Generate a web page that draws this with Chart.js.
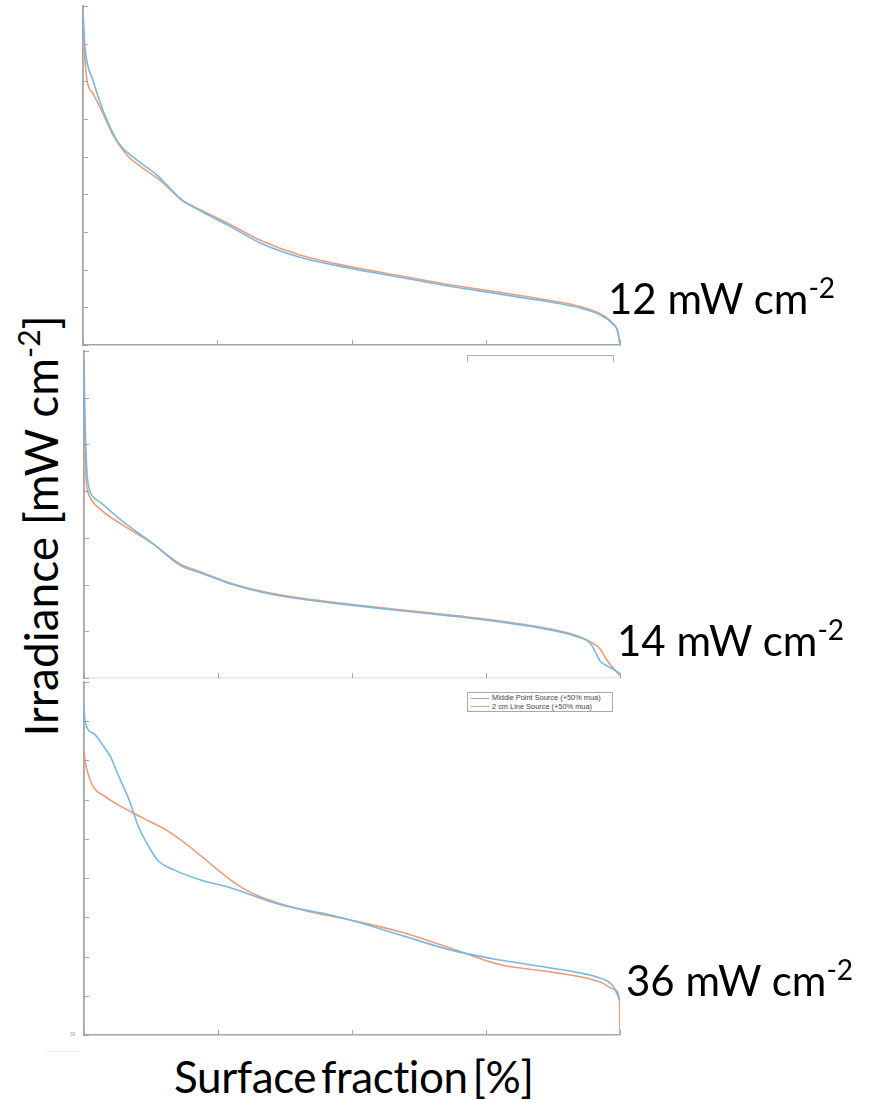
<!DOCTYPE html>
<html>
<head>
<meta charset="utf-8">
<script src="https://cdn.jsdelivr.net/npm/chart.js@4.4.1/dist/chart.umd.min.js"></script>
<style>
  body { margin: 0; background: #fff; }
  #page { position: relative; width: 882px; height: 1100px; overflow: hidden; font-family: "Lato", "Open Sans", sans-serif; }
  .panel { position: absolute; }
  .big { position: absolute; font-size: 42px; color: #000; white-space: nowrap; line-height: 1; }
  .big sup { font-size: 28px; vertical-align: 0; position: relative; top: -16px; }
  #ylabel { position: absolute; left: 41px; top: 526px; font-size: 46px; transform: translate(-50%, -50%) rotate(-90deg); }
  #ylabel sup { font-size: 30px; top: -18px; }
  #xlabel { left: 174px; top: 1076px; font-size: 44px; word-spacing: -6px; letter-spacing: -0.4px; transform: translateY(-50%); }
  #legend { position: absolute; left: 467px; top: 692px; width: 146px; height: 20px; border: 1px solid #a8a8a8; background: #fff;
            font-family: "Liberation Sans", Arial, sans-serif; font-size: 7.4px; color: #444; padding-top: 1px; box-sizing: border-box; }
  #legend div { height: 8.8px; line-height: 8.8px; white-space: nowrap; }
  #legend span.ln { display: inline-block; width: 18px; height: 1px; vertical-align: middle; margin: 0 3px 0 3px; }
  #legendCut { position: absolute; left: 467px; top: 355px; width: 145px; height: 6px; border: 1px solid #b0b0b0; border-bottom: none; }
  .tiny { position: absolute; font-family: "Liberation Sans", sans-serif; font-size: 5px; color: #999; }
</style>
</head>
<body>
<div id="page">
  <div class="panel" style="left:73px; top:0px; width:560px; height:352px;"><canvas id="c1"></canvas></div>
  <div id="legendCut"></div>
  <div class="panel" style="left:74px; top:345px; width:559px; height:340px;"><canvas id="c2"></canvas></div>
  <div class="panel" style="left:74px; top:676px; width:559px; height:366px;"><canvas id="c3"></canvas></div>
  <div id="legend"></div>
  <div class="tiny" style="left:70px; top:1031px;">30</div>
  <div style="position:absolute; left:46px; top:1051px; width:34px; height:1px; background:#eee;"></div>

  <div class="big" style="left:608px; top:298px; transform: translateY(-50%);">12 mW cm<sup>-2</sup></div>
  <div class="big" style="left:617px; top:640px; transform: translateY(-50%);">14 mW cm<sup>-2</sup></div>
  <div class="big" style="left:626px; top:980px; transform: translateY(-50%);">36 mW cm<sup>-2</sup></div>
  <div class="big" id="ylabel">Irradiance [mW cm<sup>-2</sup>]</div>
  <div class="big" id="xlabel">Surface fraction [%]</div>
</div>
<script>
// series labels and colours
const seriesNames = ["Middle Point Source (+50% mua)", "2 cm Line Source (+50% mua)"];
const seriesColors = ["#78b8e4", "#ee9c78"];

// x ticks (surface fraction, %)
const xMin = 0, xMax = 100, xStep = 25;

// panel 1 : 12 mW cm-2
const p1BlueX = [0, 0.2, 0.37, 1.86, 3.72, 5.96, 7.26, 10.06, 13.78, 16.2, 18.4, 22.0, 27.4, 33.0, 40.4, 49.7, 59.0, 68.3, 77.7, 87.0, 92.6, 96.3, 98.5, 99.6, 100];
const p1BlueY = [8.9, 8.3, 7.9, 7.03, 6.23, 5.52, 5.25, 4.91, 4.51, 4.16, 3.85, 3.55, 3.15, 2.71, 2.33, 2.04, 1.80, 1.56, 1.35, 1.14, 0.98, 0.80, 0.58, 0.34, 0];
const p1OrangeX = [0, 0.74, 1.86, 3.72, 5.59, 8.2, 11.2, 14.3, 18.4, 22.0, 27.4, 33.0, 40.4, 49.7, 59.0, 68.3, 77.7, 87.0, 92.6, 96.3, 98.5, 99.6, 100];
const p1OrangeY = [8.2, 7.03, 6.68, 6.15, 5.57, 5.04, 4.69, 4.38, 3.85, 3.58, 3.20, 2.78, 2.39, 2.08, 1.84, 1.60, 1.40, 1.18, 1.02, 0.83, 0.60, 0.35, 0];

// panel 2 : 14 mW cm-2
const p2BlueX = [0, 0.2, 0.56, 0.93, 1.3, 3.2, 6.9, 12.5, 18.1, 21.8, 27.4, 33.0, 40.4, 49.7, 59.0, 68.3, 77.7, 87.0, 92.6, 94.4, 95.3, 96.3, 98.1, 100];
const p2BlueY = [6.8, 5.5, 4.4, 4.07, 3.94, 3.75, 3.38, 2.91, 2.40, 2.25, 2.01, 1.84, 1.69, 1.56, 1.44, 1.33, 1.20, 1.03, 0.86, 0.75, 0.58, 0.36, 0.23, 0.10];
const p2OrangeX = [0, 0.37, 0.93, 3.2, 6.9, 12.5, 18.1, 21.8, 27.4, 33.0, 40.4, 49.7, 59.0, 68.3, 77.7, 87.0, 92.6, 94.4, 96.3, 97.2, 98.1, 100];
const p2OrangeY = [6.1, 4.3, 3.92, 3.6, 3.3, 2.9, 2.43, 2.27, 2.03, 1.86, 1.71, 1.58, 1.46, 1.35, 1.22, 1.05, 0.88, 0.78, 0.62, 0.45, 0.30, 0.05];

// panel 3 : 36 mW cm-2
const p3BlueX = [0, 0.19, 1.86, 3.72, 5.0, 6.0, 7.3, 8.4, 9.3, 10.2, 11.9, 13.8, 16.8, 21.8, 27.4, 36.7, 46.0, 49.7, 59.0, 68.3, 77.7, 87.0, 92.6, 96.3, 98.5, 99.6, 100];
const p3BlueY = [8.37, 8.0, 7.68, 7.35, 7.08, 6.75, 6.35, 6.0, 5.65, 5.3, 4.85, 4.45, 4.21, 3.95, 3.75, 3.32, 3.06, 2.93, 2.55, 2.17, 1.91, 1.71, 1.58, 1.45, 1.28, 1.0, 0.85];
const p3OrangeX = [0, 0.19, 0.9, 1.86, 3.72, 5.59, 8.76, 12.5, 15.3, 18.1, 21.2, 24.6, 27.4, 30.2, 33.0, 40.4, 49.7, 59.0, 68.3, 77.7, 87.0, 96.3, 99.1, 99.9, 100];
const p3OrangeY = [7.27, 7.0, 6.6, 6.3, 6.1, 5.93, 5.69, 5.43, 5.23, 4.97, 4.64, 4.25, 3.95, 3.7, 3.52, 3.2, 2.93, 2.63, 2.22, 1.79, 1.61, 1.35, 1.15, 0.9, 0];

const axisColor = "#a5a5a5";

// inward tick marks, like the original MATLAB axes
const inwardTicks = {
  id: "inwardTicks",
  afterDatasetsDraw(chart) {
    const { ctx, scales: { x, y }, chartArea: a } = chart;
    ctx.save();
    ctx.strokeStyle = axisColor;
    ctx.lineWidth = 1;
    y.ticks.forEach((t, i) => {
      const py = Math.round(y.getPixelForTick(i)) + 0.5;
      ctx.beginPath(); ctx.moveTo(a.left, py); ctx.lineTo(a.left + 5, py); ctx.stroke();
    });
    x.ticks.forEach((t, i) => {
      const px = Math.round(x.getPixelForTick(i)) + 0.5;
      ctx.beginPath(); ctx.moveTo(px, a.bottom); ctx.lineTo(px, a.bottom - 5); ctx.stroke();
    });
    ctx.restore();
  }
};

function pts(xs, ys) { return xs.map((v, i) => ({ x: v, y: ys[i] })); }

function panel(id, blue, orange, yMax, xBorder) {
  new Chart(document.getElementById(id), {
    type: "line",
    data: {
      datasets: [
        { label: seriesNames[0], data: blue, borderColor: seriesColors[0], borderWidth: 1.6, pointRadius: 0, cubicInterpolationMode: "monotone" },
        { label: seriesNames[1], data: orange, borderColor: seriesColors[1], borderWidth: 1.6, pointRadius: 0, cubicInterpolationMode: "monotone" }
      ]
    },
    options: {
      responsive: true, maintainAspectRatio: false, animation: false,
      layout: { padding: { left: 10, right: 13, top: 6, bottom: 7 } },
      plugins: { legend: { display: false }, tooltip: { enabled: false } },
      scales: {
        x: { type: "linear", min: xMin, max: xMax, ticks: { display: false, stepSize: xStep },
             grid: { drawOnChartArea: false, drawTicks: false },
             border: { color: xBorder, width: 1.6 },
             afterFit: s => { s.height = 0; } },
        y: { type: "linear", min: 0, max: yMax, ticks: { display: false, stepSize: 1 },
             grid: { drawOnChartArea: false, drawTicks: false },
             border: { color: axisColor, width: 1.8 },
             afterFit: s => { s.width = 0; } }
      }
    },
    plugins: [inwardTicks]
  });
}

panel("c1", pts(p1BlueX, p1BlueY), pts(p1OrangeX, p1OrangeY), 9, axisColor);
panel("c2", pts(p2BlueX, p2BlueY), pts(p2OrangeX, p2OrangeY), 7, "#e6e6e6");
panel("c3", pts(p3BlueX, p3BlueY), pts(p3OrangeX, p3OrangeY), 9, axisColor);

// legend for the bottom panel
const leg = document.getElementById("legend");
seriesNames.forEach((n, i) => {
  const row = document.createElement("div");
  row.innerHTML = '<span class="ln" style="background:' + seriesColors[i] + '"></span>' + n;
  leg.appendChild(row);
});
</script>
</body>
</html>
